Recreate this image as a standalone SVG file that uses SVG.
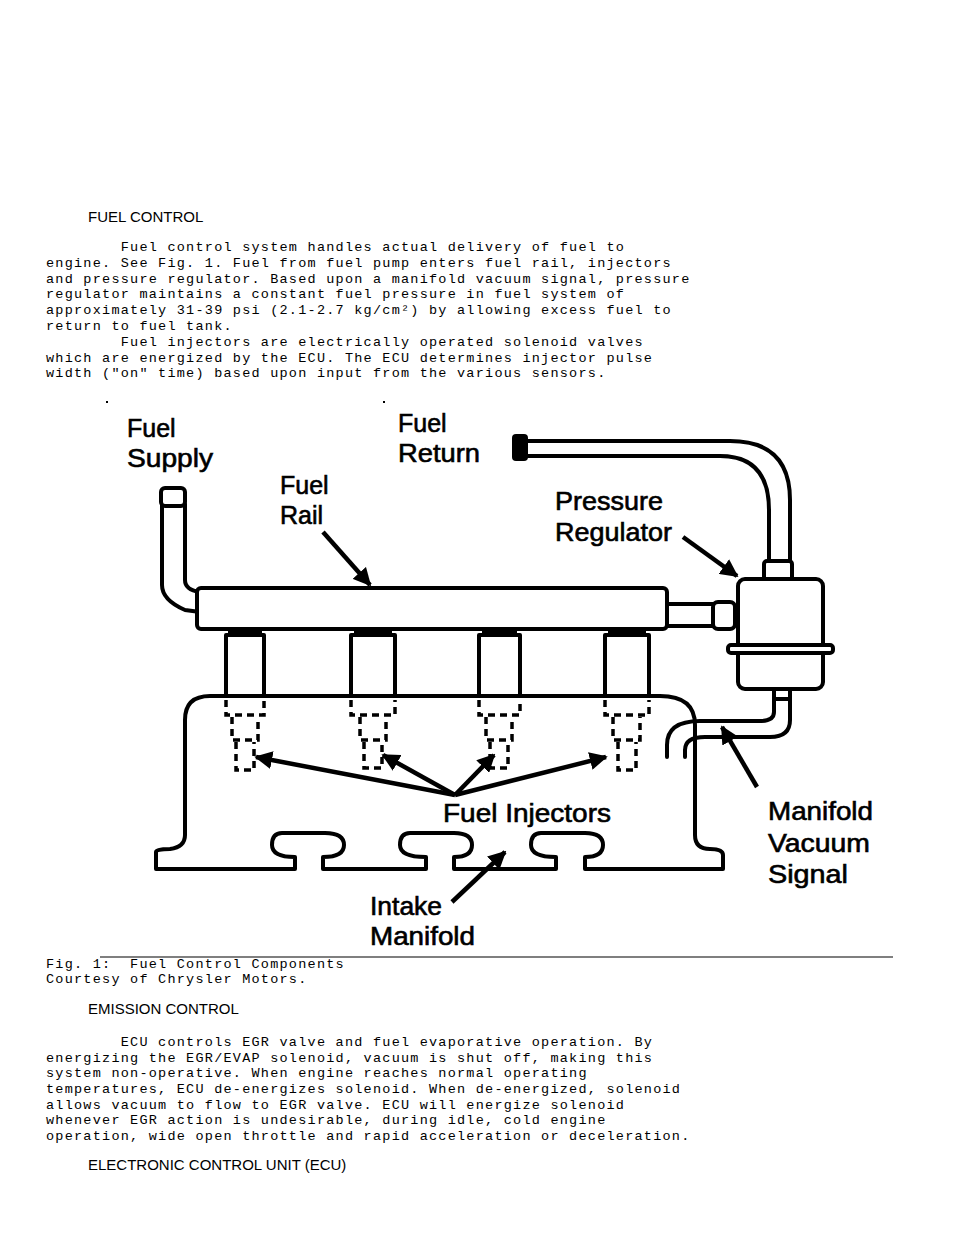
<svg xmlns="http://www.w3.org/2000/svg" width="960" height="1242" viewBox="0 0 960 1242">
<defs>
<style>
.m{font-family:"Liberation Mono",monospace;font-size:13.5px;letter-spacing:1.24px;fill:#000;white-space:pre}
.h{font-family:"Liberation Sans",Arial,sans-serif;font-size:15px;fill:#000}
.l{font-family:"Liberation Sans",Arial,sans-serif;font-size:25px;fill:#000;stroke:#000;stroke-width:0.6}
.s{fill:none;stroke:#000;stroke-width:4;stroke-linejoin:round;stroke-linecap:round}
.w{fill:#fff;stroke:#000;stroke-width:4;stroke-linejoin:round}
.d{fill:none;stroke:#000;stroke-width:3.5;stroke-dasharray:7 5}
.a{fill:none;stroke:#000;stroke-width:4.5}
</style>
<marker id="ah" viewBox="0 0 10 10" refX="9" refY="5" markerWidth="4" markerHeight="4" orient="auto" markerUnits="strokeWidth"><path d="M0,0L10,5L0,10z" fill="#000"/></marker>
</defs>
<rect width="960" height="1242" fill="#fff"/>
<g id="text">
<text class="h" x="88" y="222">FUEL CONTROL</text>
<text class="m" x="46" y="251">        Fuel control system handles actual delivery of fuel to</text>
<text class="m" x="46" y="267">engine. See Fig. 1. Fuel from fuel pump enters fuel rail, injectors</text>
<text class="m" x="46" y="283">and pressure regulator. Based upon a manifold vacuum signal, pressure</text>
<text class="m" x="46" y="298">regulator maintains a constant fuel pressure in fuel system of</text>
<text class="m" x="46" y="314">approximately 31-39 psi (2.1-2.7 kg/cm²) by allowing excess fuel to</text>
<text class="m" x="46" y="330">return to fuel tank.</text>
<text class="m" x="46" y="346">        Fuel injectors are electrically operated solenoid valves</text>
<text class="m" x="46" y="362">which are energized by the ECU. The ECU determines injector pulse</text>
<text class="m" x="46" y="377">width ("on" time) based upon input from the various sensors.</text>
<text class="m" x="46" y="968">Fig. 1:  Fuel Control Components</text>
<text class="m" x="46" y="983">Courtesy of Chrysler Motors.</text>
<text class="h" x="88" y="1014">EMISSION CONTROL</text>
<text class="m" x="46" y="1046">        ECU controls EGR valve and fuel evaporative operation. By</text>
<text class="m" x="46" y="1062">energizing the EGR/EVAP solenoid, vacuum is shut off, making this</text>
<text class="m" x="46" y="1077">system non-operative. When engine reaches normal operating</text>
<text class="m" x="46" y="1093">temperatures, ECU de-energizes solenoid. When de-energized, solenoid</text>
<text class="m" x="46" y="1109">allows vacuum to flow to EGR valve. ECU will energize solenoid</text>
<text class="m" x="46" y="1124">whenever EGR action is undesirable, during idle, cold engine</text>
<text class="m" x="46" y="1140">operation, wide open throttle and rapid acceleration or deceleration.</text>
<text class="h" x="88" y="1170">ELECTRONIC CONTROL UNIT (ECU)</text>
<line x1="100" y1="957" x2="893" y2="957" stroke="#000" stroke-width="1.2"/>
</g>
<g id="drawing">
<rect x="106" y="401" width="2" height="2"/><rect x="383" y="401" width="2" height="2"/>
<g id="manifold">
<path class="s" d="M156,869 L156,852 Q156,849 170,849 Q185,847 185,835 L185,720 Q185,696 210,696 L660,696 Q695,696 695,725 L695,835 Q695,849 710,849 Q723,849 723,855 L723,869 L585,869 L585,857 Q603,857 603,845 Q603,833 585,833 L541,833 Q531,833 531,845 Q531,857 556,857 L556,869 L454,869 L454,857 Q472,857 472,845 Q472,833 454,833 L410,833 Q400,833 400,845 Q400,857 426,857 L426,869 L323,869 L323,857 Q344,857 344,845 Q344,833 325,833 L282,833 Q272,833 272,845 Q272,857 295,857 L295,869 Z"/>
</g>
<g id="vacuum-hose">
<path class="s" d="M774,695 L774,712 Q774,721 760,721 L700,721 Q667,721 667,745 L667,757"/>
<path class="s" d="M790,695 L790,720 Q790,737 770,737 L705,737 Q685,737 685,750 L685,757"/>
<rect class="w" x="774" y="689" width="16" height="10"/>
</g>
<g id="supply">
<path class="s" d="M162,504 L162,585 Q162,600 185,610 L200,612"/>
<path class="s" d="M185,504 L185,580 Q185,590 200,592"/>
<rect class="w" x="161" y="488" width="24" height="18" rx="4"/>
</g>
<g id="rail">
<rect class="w" x="197" y="588" width="470" height="41" rx="4"/>
<path class="s" d="M667,604 L715,604 M667,626 L715,626"/>
<rect class="w" x="713" y="602" width="22" height="27" rx="5"/>
</g>
<g id="return">
<path class="s" d="M769,562 L769,510 Q769,456 720,456 L526,456"/>
<path class="s" d="M790,562 L790,500 Q790,441 730,441 L526,441"/>
<rect x="512" y="434" width="16" height="27" rx="4"/>
</g>
<g id="regulator">
<rect class="w" x="764" y="561" width="28" height="20" rx="3"/>
<rect class="w" x="738" y="579" width="85" height="110" rx="7"/>
<rect class="w" x="728" y="645" width="105" height="8" rx="3"/>
</g>
<g id="injectors">
<rect class="w" x="226" y="635" width="38" height="61"/><rect x="228" y="630" width="34" height="5"/>
<rect class="w" x="351" y="635" width="44" height="61"/><rect x="354" y="630" width="38" height="5"/>
<rect class="w" x="479" y="635" width="41" height="61"/><rect x="482" y="630" width="35" height="5"/>
<rect class="w" x="605" y="635" width="44" height="61"/><rect x="608" y="630" width="38" height="5"/>
<path class="d" d="M226,700 L226,715 L264,715 L264,700 M232,717 L232,740 L258,740 L258,717 M236,742 L236,770 L254,770 L254,742"/>
<path class="d" d="M351,700 L351,715 L395,715 L395,700 M360,717 L360,740 L386,740 L386,717 M364,742 L364,768 L382,768 L382,742"/>
<path class="d" d="M479,700 L479,715 L520,715 L520,700 M486,717 L486,740 L512,740 L512,717 M490,742 L490,768 L508,768 L508,742"/>
<path class="d" d="M605,700 L605,715 L649,715 L649,700 M613,717 L613,740 L640,740 L640,717 M618,742 L618,770 L636,770 L636,742"/>
</g>
<g id="connectors">
<line class="a" x1="455" y1="795" x2="256" y2="757" marker-end="url(#ah)"/>
<line class="a" x1="455" y1="795" x2="383" y2="755" marker-end="url(#ah)"/>
<line class="a" x1="455" y1="795" x2="494" y2="755" marker-end="url(#ah)"/>
<line class="a" x1="455" y1="795" x2="606" y2="757" marker-end="url(#ah)"/>
<line class="a" x1="323" y1="532" x2="370" y2="585" marker-end="url(#ah)"/>
<line class="a" x1="683" y1="537" x2="737" y2="576" marker-end="url(#ah)"/>
<line class="a" x1="757" y1="787" x2="722" y2="727" marker-end="url(#ah)"/>
<line class="a" x1="452" y1="902" x2="505" y2="852" marker-end="url(#ah)"/>
</g>
<g id="labels">
<text class="l" x="127" y="437">Fuel</text><text class="l" x="127" y="467" textLength="86" lengthAdjust="spacingAndGlyphs">Supply</text>
<text class="l" x="398" y="432">Fuel</text><text class="l" x="398" y="462" textLength="82" lengthAdjust="spacingAndGlyphs">Return</text>
<text class="l" x="280" y="494">Fuel</text><text class="l" x="280" y="524">Rail</text>
<text class="l" x="555" y="510" textLength="108" lengthAdjust="spacingAndGlyphs">Pressure</text><text class="l" x="555" y="541" textLength="117" lengthAdjust="spacingAndGlyphs">Regulator</text>
<text class="l" x="443" y="822" textLength="168" lengthAdjust="spacingAndGlyphs">Fuel Injectors</text>
<text class="l" x="768" y="820" textLength="105" lengthAdjust="spacingAndGlyphs">Manifold</text><text class="l" x="768" y="852" textLength="102" lengthAdjust="spacingAndGlyphs">Vacuum</text><text class="l" x="768" y="883" textLength="80" lengthAdjust="spacingAndGlyphs">Signal</text>
<text class="l" x="370" y="915" textLength="72" lengthAdjust="spacingAndGlyphs">Intake</text><text class="l" x="370" y="945" textLength="105" lengthAdjust="spacingAndGlyphs">Manifold</text>
</g>
</g>
</svg>
